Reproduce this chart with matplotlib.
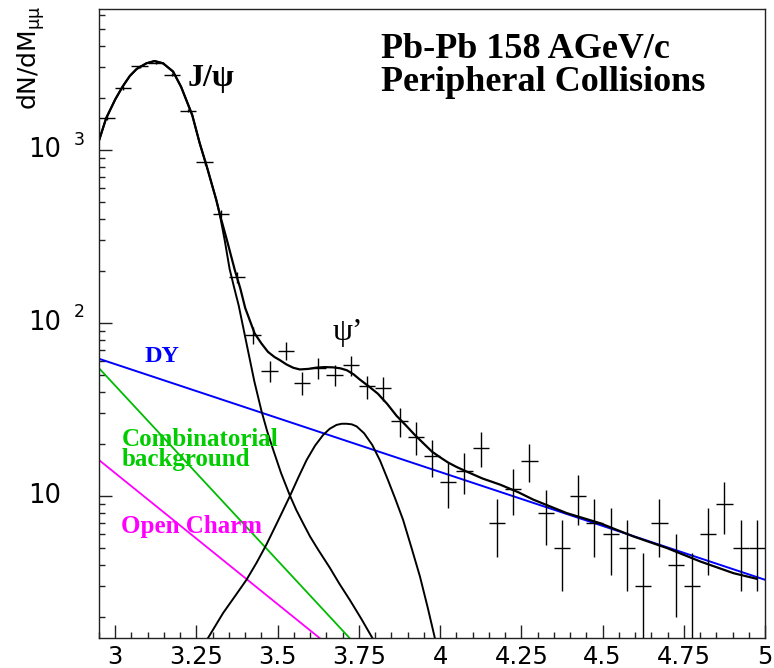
import matplotlib
matplotlib.use("Agg")
import matplotlib.pyplot as plt
from matplotlib.ticker import MultipleLocator, LogLocator, NullFormatter, FixedLocator
from matplotlib.transforms import blended_transform_factory

data_x = [2.975, 3.025, 3.075, 3.125, 3.175, 3.225, 3.275, 3.325, 3.375, 3.425,
          3.475, 3.525, 3.575, 3.625, 3.675, 3.725, 3.775, 3.825, 3.875, 3.925,
          3.975, 4.025, 4.075, 4.125, 4.175, 4.225, 4.275, 4.325, 4.375, 4.425,
          4.475, 4.525, 4.575, 4.625, 4.675, 4.725, 4.775, 4.825, 4.875, 4.925, 4.975]
data_y = [1530, 2280, 3040, 3200, 2720, 1690, 850, 428, 184, 85,
          53, 69, 45, 55, 50, 57, 43, 42, 27, 22,
          17, 12, 14, 19, 7, 11, 16, 8, 5, 10,
          7, 6, 5, 3, 7, 4, 3, 6, 9, 5, 5]
data_err = [39, 48, 55, 57, 52, 41, 29, 21, 13.6, 9.2,
            7.3, 8.3, 6.7, 7.4, 7.1, 7.5, 6.6, 6.5, 5.2, 4.7,
            4.1, 3.5, 3.7, 4.4, 2.6, 3.3, 4.0, 2.8, 2.2, 3.2,
            2.6, 2.5, 2.2, 1.7, 2.6, 2.0, 1.7, 2.5, 3.0, 2.2, 2.2]
bin_half = 0.025

# fitted curves, points
total_x = [2.949, 2.972, 3.000, 3.023, 3.045, 3.066, 3.096, 3.121, 3.147, 3.178,
           3.203, 3.237, 3.260, 3.283, 3.311, 3.321, 3.345, 3.368, 3.385, 3.400,
           3.429, 3.450, 3.470, 3.490, 3.506, 3.527, 3.548, 3.568, 3.595, 3.619,
           3.645, 3.671, 3.693, 3.713, 3.733, 3.753, 3.780, 3.808, 3.837, 3.866,
           3.895, 3.922, 3.950, 3.975, 4.000, 4.024, 4.050, 4.082, 4.130, 4.185,
           4.240, 4.287, 4.390, 4.492, 4.595, 4.698, 4.801, 4.903, 4.975]
total_y = [1117, 1525, 1960, 2330, 2680, 2940, 3170, 3266, 3170, 2840,
           2310, 1590, 1093, 787, 514, 431, 295, 202, 158, 122,
           87, 76, 68, 63.5, 61, 57.5, 55, 53.8, 54.2, 55.1,
           55.5, 55.3, 54.6, 53.2, 50.5, 47.0, 43.0, 39.0, 34.0, 29.0,
           25.5, 22.5, 20.0, 18.0, 16.7, 15.6, 14.7, 13.8, 12.6, 11.6,
           10.5, 9.5, 7.94, 6.95, 5.82, 4.99, 4.17, 3.57, 3.31]

jpsi_x = [2.949, 2.972, 3.000, 3.023, 3.045, 3.066, 3.096, 3.121, 3.147, 3.178,
          3.203, 3.237, 3.260, 3.283, 3.311, 3.321, 3.337, 3.352, 3.366, 3.380,
          3.392, 3.408, 3.428, 3.450, 3.468, 3.486, 3.510, 3.537, 3.557, 3.578,
          3.600, 3.624, 3.660, 3.690, 3.722, 3.757, 3.792]
jpsi_y = [1117, 1525, 1960, 2330, 2680, 2940, 3170, 3266, 3170, 2840,
          2310, 1590, 1093, 787, 514, 431, 300, 205, 160, 126,
          98, 70, 46, 31, 23.5, 18.5, 13.6, 10.1, 8.3, 6.95,
          5.8, 4.9, 3.85, 3.1, 2.5, 1.95, 1.5]

psip_x = [3.285, 3.332, 3.370, 3.404, 3.435, 3.465, 3.500, 3.537, 3.563, 3.589,
          3.615, 3.640, 3.660, 3.681, 3.697, 3.712, 3.728, 3.743, 3.766, 3.791,
          3.815, 3.839, 3.862, 3.886, 3.912, 3.938, 3.962, 3.984]
psip_y = [1.5, 2.10, 2.65, 3.27, 4.10, 5.21, 7.10, 9.91, 12.7, 16.1,
          19.5, 22.5, 24.4, 25.7, 26.1, 26.1, 25.9, 25.2, 23.0, 19.7,
          16.0, 12.4, 9.6, 7.26, 5.0, 3.41, 2.25, 1.5]

dy_x = [2.95, 5.0]
dy_y = [62.0, 3.27]
comb_x = [2.95, 3.722]
comb_y = [54.7, 1.5]
charm_x = [2.95, 3.630]
charm_y = [16.1, 1.5]

x_ticks = [3.0, 3.25, 3.5, 3.75, 4.0, 4.25, 4.5, 4.75, 5.0]
x_ticklabels = ["3", "3.25", "3.5", "3.75", "4", "4.25", "4.5", "4.75", "5"]
y_ticks = [10, 100, 1000]
y_exponents = ["", "2", "3"]

fig = plt.figure(figsize=(7.74, 6.68), dpi=100)
ax = fig.add_axes([99 / 774, 1 - 638.3 / 668, 666 / 774, 629.3 / 668])

ax.plot(dy_x, dy_y, color="#0000ff", lw=1.4)
ax.plot(comb_x, comb_y, color="#00bb00", lw=1.3)
ax.plot(charm_x, charm_y, color="#ff00ff", lw=1.3)
ax.plot(jpsi_x, jpsi_y, color="black", lw=1.4)
ax.plot(psip_x, psip_y, color="black", lw=1.4)
ax.plot(total_x, total_y, color="black", lw=1.6)
ax.errorbar(data_x, data_y, xerr=bin_half, yerr=data_err, fmt="none",
            ecolor="black", elinewidth=1.0, capsize=0)

ax.set_yscale("log")
ax.set_xlim(2.95, 5.0)
ax.set_ylim(1.5, 6530)

ax.xaxis.set_major_locator(FixedLocator(x_ticks))
ax.xaxis.set_minor_locator(MultipleLocator(0.05))
ax.set_xticklabels(x_ticklabels)
ax.yaxis.set_major_locator(LogLocator(base=10))
ax.yaxis.set_minor_locator(LogLocator(base=10, subs=range(2, 10)))
ax.yaxis.set_minor_formatter(NullFormatter())
ax.tick_params(which="both", direction="in", top=False, right=False,
               width=1.0, color="#222222")
ax.tick_params(which="major", length=9.4)
ax.tick_params(which="minor", length=4.3)
ax.tick_params(axis="x", labelsize=17.5, pad=4.5)
ax.tick_params(axis="y", labelleft=False)
for sp in ax.spines.values():
    sp.set_linewidth(1.0)
    sp.set_color("#222222")

# ROOT style y labels: "10" with a detached exponent
trans = blended_transform_factory(fig.transFigure, ax.transData)
for val, ex in zip(y_ticks, y_exponents):
    ax.text(28 / 774, val, "10", transform=trans, ha="left", va="center",
            fontsize=18.5, clip_on=False)
    if ex:
        ax.annotate(ex, xy=(74 / 774, val), xycoords=trans, xytext=(0, 7.5),
                    textcoords="offset points", ha="left", va="center",
                    fontsize=12.5, annotation_clip=False)

fig.text(31 / 774, 1 - 5 / 668, r"dN/dM$_{\mathrm{\mu\mu}}$", rotation=90,
         ha="center", va="top", fontsize=18)

serif = "Liberation Serif"
ax.text(3.8175, 3390, "Pb-Pb 158 AGeV/c", fontsize=26, fontweight="bold",
        family=serif, ha="left", va="baseline")
ax.text(3.8175, 2200, "Peripheral Collisions", fontsize=26, fontweight="bold",
        family=serif, ha="left", va="baseline")
ax.text(3.223, 2345, "J/ψ", fontsize=23, fontweight="bold", family=serif,
        ha="left", va="baseline")
ax.text(3.668, 87.5, "ψ’", fontsize=23, family=serif, ha="left", va="center")
ax.text(3.090, 59.7, "DY", fontsize=17.5, fontweight="bold", family=serif,
        color="#0000ff", ha="left", va="baseline")
ax.text(3.0185, 19.5, "Combinatorial", fontsize=18, fontweight="bold",
        family=serif, color="#00cc00", ha="left", va="baseline")
ax.text(3.0185, 14.8, "background", fontsize=18, fontweight="bold",
        family=serif, color="#00cc00", ha="left", va="baseline")
ax.text(3.0185, 6.09, "Open Charm", fontsize=18, fontweight="bold",
        family=serif, color="#ff00ff", ha="left", va="baseline")

fig.savefig("out.png", dpi=100)
